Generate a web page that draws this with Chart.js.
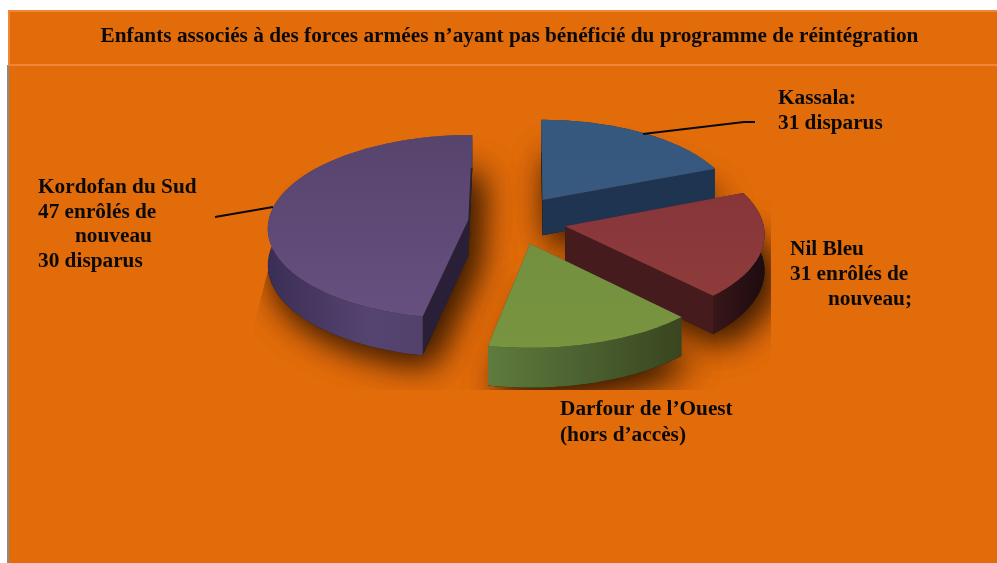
<!DOCTYPE html>
<html lang="fr">
<head>
<meta charset="utf-8">
<title>Enfants associés à des forces armées</title>
<script src="https://cdn.jsdelivr.net/npm/chart.js@4"></script>
<style>
  html, body { margin: 0; padding: 0; background: #fff; }
  #wrap { position: relative; width: 997px; height: 563px; }
</style>
</head>
<body>
<div id="wrap"><canvas id="pie" width="997" height="563"></canvas></div>
<script>
// Regions and their counts (Darfour de l'Ouest has no stated count: estimated share)
const regions = ['Kassala', 'Nil Bleu', "Darfour de l’Ouest", 'Kordofan du Sud'];
const counts = [31, 31, 25, 77];
const explode = [52, 41, 47, 57];
// Direction each slice is pulled out in, degrees clockwise from north
const explodeBearing = [20, 103, 174, 275];
// Slices further back read a little smaller in the tilted view
const rimScale = [0.965, 0.98, 1, 0.99];

const titleText = 'Enfants associés à des forces armées n’ayant pas bénéficié du programme de réintégration';
const kassalaLines = ['Kassala:', '31 disparus'];
const nilLines = ['Nil Bleu', '31 enrôlés de', 'nouveau;'];
const darfourLines = ['Darfour de l’Ouest', '(hors d’accès)'];
const kordofanLines = ['Kordofan du Sud', '47 enrôlés de', 'nouveau', '30 disparus'];

const topFrom = ['#35587e', '#86363a', '#739040', '#57446c'];
const topTo = ['#39597f', '#8f3b3b', '#78943f', '#665080'];
const cutColor = ['#1f3450', '#451b1e', '#3e4b26', '#292038'];
const wallFrom = ['#1f3450', '#3a1619', '#5f7b3d', '#3b2e56'];
const wallMid = ['#1f3450', '#2a1014', '#4b6030', '#554470'];
const wallTo = ['#1f3450', '#1d0c10', '#39451f', '#4e3f66'];

const FONT = '"Liberation Serif", serif';
const ORANGE = '#e36c0a';

// Tilted view of the pie plane: nearer rim points appear slightly larger
const SQUASH = 0.458, PERSPECTIVE = 0.00038, DEPTH = 36, SHIFT_X = 15.5;

function project(arc, dx, dy, z) {
  const k = 1 / (1 - dy * PERSPECTIVE);
  return { x: arc.x + SHIFT_X + dx * k, y: arc.y + dy * SQUASH * k + z * k };
}

// Geometry of one slice, taken from the arc element the controller laid out
function sliceGeometry(arc, offset, bearing, scale) {
  const b = bearing * Math.PI / 180;
  const ax = Math.sin(b) * offset, ay = -Math.cos(b) * offset;
  const radius = arc.outerRadius * scale;
  const rim = [];
  const steps = Math.max(8, Math.ceil((arc.endAngle - arc.startAngle) * 40));
  for (let i = 0; i <= steps; i++) {
    const a = arc.startAngle + (arc.endAngle - arc.startAngle) * i / steps;
    rim.push([ax + Math.cos(a) * radius, ay + Math.sin(a) * radius]);
  }
  return { ax, ay, rim };
}

function tracePolygon(ctx, pts) {
  ctx.beginPath();
  pts.forEach((p, i) => i ? ctx.lineTo(p.x, p.y) : ctx.moveTo(p.x, p.y));
  ctx.closePath();
}

function fillPolygon(ctx, pts, color) {
  tracePolygon(ctx, pts);
  ctx.fillStyle = color;
  ctx.fill();
}

function drawSlice(ctx, arc, g, i) {
  const apexTop = project(arc, g.ax, g.ay, 0);
  const apexLow = project(arc, g.ax, g.ay, DEPTH);
  const rimTop = g.rim.map(p => project(arc, p[0], p[1], 0));
  const rimLow = g.rim.map(p => project(arc, p[0], p[1], DEPTH));
  const last = rimTop.length - 1;

  // Cut faces
  fillPolygon(ctx, [apexTop, rimTop[0], rimLow[0], apexLow], i === 0 ? '#0e1a2a' : cutColor[i]);
  fillPolygon(ctx, [apexTop, rimTop[last], rimLow[last], apexLow], cutColor[i]);

  // Outer wall, shaded across its width
  const xs = rimTop.map(p => p.x);
  const wall = ctx.createLinearGradient(Math.min(...xs), 0, Math.max(...xs), 0);
  wall.addColorStop(0, wallFrom[i]);
  wall.addColorStop(0.5, wallMid[i]);
  wall.addColorStop(1, wallTo[i]);
  fillPolygon(ctx, rimTop.concat(rimLow.slice().reverse()), wall);

  // Top face
  const ys = rimTop.map(p => p.y).concat(apexTop.y);
  const grad = ctx.createLinearGradient(0, Math.min(...ys), 0, Math.max(...ys));
  grad.addColorStop(0, topFrom[i]);
  grad.addColorStop(1, topTo[i]);
  fillPolygon(ctx, [apexTop].concat(rimTop), grad);
}

// The shadow is cast by the slice's lower outline only, so no glow rises above the top rim
function dropShadow(ctx, arc, g) {
  const low = [project(arc, g.ax, g.ay, DEPTH)].concat(g.rim.map(p => project(arc, p[0], p[1], DEPTH)));
  ctx.save();
  ctx.shadowColor = 'rgba(45,20,0,0.75)';
  ctx.shadowBlur = 34;
  ctx.shadowOffsetX = 8;
  ctx.shadowOffsetY = 8;
  ctx.fillStyle = '#3a2000';
  tracePolygon(ctx, low);
  ctx.fill();
  ctx.fill();
  ctx.restore();
}

const tiltedPie = {
  id: 'tiltedPie',
  beforeDatasetDraw(chart, args) {
    const ctx = chart.ctx;
    const arcs = args.meta.data;
    const geo = arcs.map((arc, i) => sliceGeometry(arc, arc.options.offset, explodeBearing[i], rimScale[i]));

    // Soft shadows first, held inside the band around the pie
    ctx.save();
    ctx.beginPath();
    ctx.moveTo(290, 95); ctx.lineTo(771, 95); ctx.lineTo(771, 390);
    ctx.lineTo(254, 390); ctx.lineTo(254, 325); ctx.lineTo(272, 255);
    ctx.closePath();
    ctx.clip();
    arcs.forEach((arc, i) => dropShadow(ctx, arc, geo[i]));
    ctx.restore();

    // Paint back to front
    [0, 1, 3, 2].forEach(i => drawSlice(ctx, arcs[i], geo[i], i));
    return false;
  }
};

function block(ctx, lines, xs, ys) {
  lines.forEach((t, i) => ctx.fillText(t, xs[i], ys[i]));
}

const backdrop = {
  id: 'backdrop',
  beforeDraw(chart) {
    const ctx = chart.ctx;
    ctx.save();
    ctx.fillStyle = '#fff';
    ctx.fillRect(0, 0, 997, 563);
    ctx.fillStyle = ORANGE;
    ctx.fillRect(8, 10, 989, 553);
    ctx.fillStyle = '#8a8a8a';
    ctx.fillRect(7, 65, 2, 498);
    ctx.fillStyle = '#f3853a';
    ctx.fillRect(8, 10, 989, 2);
    ctx.fillRect(8, 64, 989, 2);
    ctx.fillRect(8, 10, 2, 55);
    ctx.restore();
  }
};

const callouts = {
  id: 'callouts',
  afterDraw(chart) {
    const ctx = chart.ctx;
    ctx.save();
    ctx.strokeStyle = '#0a0a0a';
    ctx.lineWidth = 1.8;
    ctx.beginPath();
    ctx.moveTo(643, 134); ctx.lineTo(744, 122); ctx.lineTo(755, 122);
    ctx.moveTo(215, 217); ctx.lineTo(273, 207);
    ctx.stroke();

    ctx.fillStyle = '#0a0a0a';
    ctx.font = 'bold 21.3px ' + FONT;
    ctx.textBaseline = 'alphabetic';
    ctx.textAlign = 'left';
    block(ctx, kassalaLines, [778, 778], [104, 129]);
    block(ctx, nilLines, [790, 790, 828], [255, 280, 305]);
    block(ctx, darfourLines, [560, 560], [415, 441]);
    block(ctx, kordofanLines, [38, 38, 75, 38], [193, 218, 242, 267]);
    ctx.restore();
  }
};

new Chart(document.getElementById('pie'), {
  type: 'pie',
  data: {
    labels: regions,
    datasets: [{ data: counts, offset: explode, borderWidth: 0, backgroundColor: topTo }]
  },
  options: {
    responsive: false,
    animation: false,
    radius: 202,
    layout: { padding: { left: 22, right: 0, top: 0, bottom: 171 } },
    plugins: {
      legend: { display: false },
      tooltip: { enabled: false },
      title: {
        display: true,
        text: titleText,
        color: '#0a0a0a',
        font: { family: FONT, size: 21.3, weight: 'bold' },
        padding: { top: 24, bottom: 2.4 }
      }
    }
  },
  plugins: [backdrop, tiltedPie, callouts]
});
</script>
</body>
</html>
